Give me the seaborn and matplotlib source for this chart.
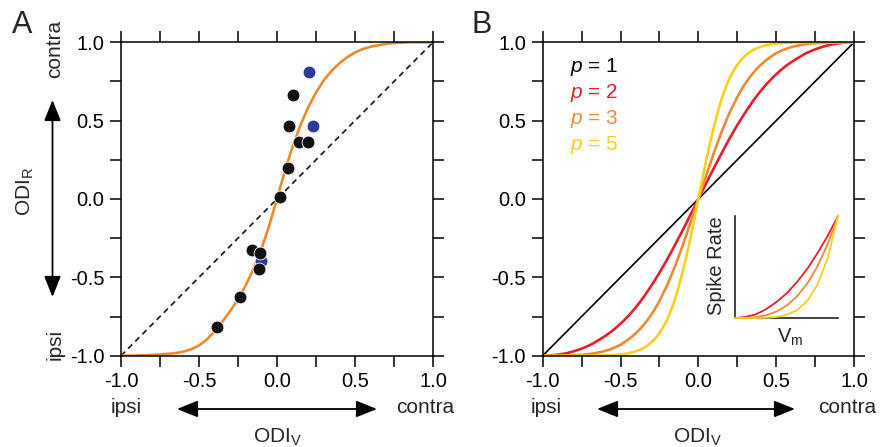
import matplotlib
matplotlib.use("Agg")
import matplotlib.pyplot as plt
import seaborn as sns

# panel A: visual ODI grid and fitted curve
odi_v = [-1.0, -0.95, -0.9, -0.85, -0.8, -0.75, -0.7, -0.65, -0.6, -0.55, -0.5,
         -0.45, -0.4, -0.35, -0.3, -0.25, -0.2, -0.15, -0.1, -0.05, 0.0,
         0.05, 0.1, 0.15, 0.2, 0.25, 0.3, 0.35, 0.4, 0.45, 0.5,
         0.55, 0.6, 0.65, 0.7, 0.75, 0.8, 0.85, 0.9, 0.95, 1.0]
fit_a = [-1.0, -1.0, -0.999, -0.997, -0.995, -0.992, -0.988, -0.983, -0.974, -0.959, -0.935,
         -0.897, -0.845, -0.783, -0.715, -0.64, -0.55, -0.445, -0.32, -0.17, 0.0,
         0.178, 0.333, 0.47, 0.585, 0.68, 0.758, 0.818, 0.866, 0.905, 0.935,
         0.957, 0.972, 0.982, 0.99, 0.995, 0.998, 1.0, 1.0, 1.0, 1.0]

# panel A: cells
black_x = [-0.387, -0.237, -0.162, -0.109, -0.118, 0.019, 0.069, 0.077, 0.100, 0.143, 0.197]
black_y = [-0.815, -0.627, -0.325, -0.347, -0.447, 0.015, 0.196, 0.466, 0.664, 0.366, 0.366]
blue_x = [-0.105, 0.207, 0.233]
blue_y = [-0.394, 0.809, 0.466]

unity = [-1.0, 1.0]

# panel B: model curves (finer grid where they bend)
odi_fine = [-1.0, -0.95, -0.9, -0.85, -0.8, -0.75,
            -0.7, -0.675, -0.65, -0.625, -0.6, -0.575, -0.55, -0.525, -0.5, -0.475,
            -0.45, -0.425, -0.4, -0.375, -0.35, -0.325, -0.3, -0.275, -0.25, -0.225,
            -0.2, -0.175, -0.15, -0.125, -0.1, -0.075, -0.05, -0.025, 0.0,
            0.025, 0.05, 0.075, 0.1, 0.125, 0.15, 0.175, 0.2, 0.225, 0.25,
            0.275, 0.3, 0.325, 0.35, 0.375, 0.4, 0.425, 0.45, 0.475, 0.5,
            0.525, 0.55, 0.575, 0.6, 0.625, 0.65, 0.675, 0.7,
            0.75, 0.8, 0.85, 0.9, 0.95, 1.0]
p2_y = [-1.0, -0.998, -0.993, -0.985, -0.972, -0.955,
        -0.934, -0.921, -0.906, -0.891, -0.875, -0.858, -0.839, -0.818, -0.796, -0.772,
        -0.746, -0.719, -0.689, -0.657, -0.624, -0.587, -0.55, -0.511, -0.471, -0.428,
        -0.385, -0.34, -0.293, -0.245, -0.198, -0.149, -0.1, -0.05, 0.0,
        0.05, 0.1, 0.149, 0.198, 0.245, 0.293, 0.34, 0.385, 0.428, 0.471,
        0.511, 0.55, 0.587, 0.624, 0.657, 0.689, 0.719, 0.746, 0.772, 0.796,
        0.818, 0.839, 0.858, 0.875, 0.891, 0.906, 0.921, 0.934,
        0.955, 0.972, 0.985, 0.993, 0.998, 1.0]
p3_y = [-1.0, -1.0, -1.0, -0.999, -0.997, -0.994,
        -0.989, -0.986, -0.981, -0.976, -0.97, -0.962, -0.953, -0.942, -0.93, -0.914,
        -0.897, -0.877, -0.855, -0.83, -0.802, -0.77, -0.735, -0.695, -0.65, -0.6,
        -0.55, -0.49, -0.43, -0.363, -0.295, -0.222, -0.15, -0.075, 0.0,
        0.075, 0.15, 0.222, 0.295, 0.363, 0.43, 0.49, 0.55, 0.6, 0.65,
        0.695, 0.735, 0.77, 0.802, 0.83, 0.855, 0.877, 0.897, 0.914, 0.93,
        0.942, 0.953, 0.962, 0.97, 0.976, 0.981, 0.986, 0.989,
        0.994, 0.997, 0.999, 1.0, 1.0, 1.0]
p5_y = [-1.0, -1.0, -1.0, -1.0, -1.0, -1.0,
        -1.0, -1.0, -0.999, -0.999, -0.998, -0.997, -0.996, -0.994, -0.992, -0.989,
        -0.984, -0.979, -0.971, -0.962, -0.95, -0.934, -0.913, -0.888, -0.856, -0.816,
        -0.77, -0.709, -0.64, -0.556, -0.46, -0.358, -0.245, -0.124, 0.0,
        0.124, 0.245, 0.358, 0.46, 0.556, 0.64, 0.709, 0.77, 0.816, 0.856,
        0.888, 0.913, 0.934, 0.95, 0.962, 0.971, 0.979, 0.984, 0.989, 0.992,
        0.994, 0.996, 0.997, 0.998, 0.999, 0.999, 1.0, 1.0,
        1.0, 1.0, 1.0, 1.0, 1.0, 1.0]

# inset: spike rate vs Vm
vm = [0.0, 0.1, 0.2, 0.3, 0.4, 0.5, 0.6, 0.7, 0.8, 0.9, 1.0]
rate_p2 = [0.0, 0.01, 0.035, 0.085, 0.155, 0.24, 0.35, 0.48, 0.635, 0.805, 1.0]
rate_p3 = [0.0, 0.001, 0.008, 0.026, 0.062, 0.12, 0.21, 0.335, 0.505, 0.725, 1.0]
rate_p5 = [0.0, 0.0, 0.0, 0.002, 0.01, 0.03, 0.075, 0.165, 0.325, 0.585, 1.0]

tick_major = [-1.0, -0.5, 0.0, 0.5, 1.0]
tick_minor = [-0.75, -0.25, 0.25, 0.75]
tick_labels = ["-1.0", "-0.5", "0.0", "0.5", "1.0"]

legend_labels = [r"$p$ = $\mathit{1}$", "$p$ = 2", "$p$ = 3", "$p$ = 5"]

RED = "#E3202B"
ORANGE = "#EE8A33"
YELLOW = "#F6D01C"
FIT = "#EC8A2A"
BLUE = "#2D3A9C"

sns.set_theme(style="ticks")
plt.rcParams["font.family"] = ["Liberation Sans", "DejaVu Sans"]
plt.rcParams["mathtext.fontset"] = "custom"
plt.rcParams["mathtext.rm"] = "Liberation Sans"
plt.rcParams["mathtext.it"] = "Liberation Sans:italic"

W, H = 889, 447
fig = plt.figure(figsize=(W / 100, H / 100), dpi=100)
fig.patch.set_facecolor("white")


def box(left, top, right, bottom):
    return [left / W, 1 - bottom / H, (right - left) / W, (bottom - top) / H]


def fx(px):
    return px / W


def fy(py):
    return 1 - py / H


def style_axes(ax):
    ax.set_xlim(-1, 1)
    ax.set_ylim(-1, 1)
    ax.set_xticks(tick_major)
    ax.set_yticks(tick_major)
    ax.set_xticks(tick_minor, minor=True)
    ax.set_yticks(tick_minor, minor=True)
    ax.set_xticklabels(tick_labels)
    ax.set_yticklabels(tick_labels)
    ax.set_xlabel("")
    ax.set_ylabel("")
    for s in ax.spines.values():
        s.set_linewidth(1.1)
        s.set_color("black")
    ax.tick_params(which="both", direction="out", length=8, width=1.1,
                   top=True, right=True, colors="black", labelsize=14.5, pad=4)


def arrow(x0, y0, x1, y1):
    fig.add_artist(matplotlib.patches.FancyArrowPatch(
        (fx(x0), fy(y0)), (fx(x1), fy(y1)), transform=fig.transFigure,
        arrowstyle="<|-|>,head_length=0.8,head_width=0.32", mutation_scale=16,
        color="black", lw=1.3, shrinkA=0, shrinkB=0))


# ---- panel A ----
ax_a = fig.add_axes(box(121, 42.3, 433, 355.7))
sns.lineplot(x=unity, y=unity, color="#222222", linewidth=1.3, ax=ax_a)
ax_a.lines[-1].set_dashes([3.2, 2.4])
sns.lineplot(x=odi_v, y=fit_a, color=FIT, linewidth=1.9, ax=ax_a)
sns.scatterplot(x=blue_x, y=blue_y, color=BLUE, s=85, edgecolor="white",
                linewidth=0.6, ax=ax_a, zorder=3)
sns.scatterplot(x=black_x, y=black_y, color="#111111", s=85, edgecolor="white",
                linewidth=0.6, ax=ax_a, zorder=4)
style_axes(ax_a)

# ---- panel B ----
ax_b = fig.add_axes(box(542.7, 42.3, 854, 355.7))
sns.lineplot(x=unity, y=unity, color="black", linewidth=1.2, ax=ax_b)
sns.lineplot(x=odi_fine, y=p2_y, color=RED, linewidth=1.9, ax=ax_b)
sns.lineplot(x=odi_fine, y=p3_y, color=ORANGE, linewidth=1.9, ax=ax_b)
sns.lineplot(x=odi_fine, y=p5_y, color=YELLOW, linewidth=1.9, ax=ax_b)
style_axes(ax_b)

for i, (lab, col) in enumerate(zip(legend_labels, ["black", RED, ORANGE, YELLOW])):
    ax_b.text(-0.825, 0.81 - 0.166 * i, lab, color=col, fontsize=15, va="baseline",
              ha="left")

# inset
ax_in = fig.add_axes(box(735, 216, 838, 318))
ax_in.patch.set_alpha(0)
sns.lineplot(x=vm, y=rate_p2, color=RED, linewidth=1.3, ax=ax_in, clip_on=False)
sns.lineplot(x=vm, y=rate_p3, color=ORANGE, linewidth=1.3, ax=ax_in, clip_on=False)
sns.lineplot(x=vm, y=rate_p5, color=YELLOW, linewidth=1.3, ax=ax_in, clip_on=False)
ax_in.set_xlim(0, 1)
ax_in.set_ylim(0, 1)
ax_in.set_xticks([])
ax_in.set_yticks([])
ax_in.set_xlabel("")
ax_in.set_ylabel("")
for side in ["top", "right"]:
    ax_in.spines[side].set_visible(False)
for side in ["left", "bottom"]:
    ax_in.spines[side].set_linewidth(1.2)
    ax_in.spines[side].set_color("#222222")
    ax_in.spines[side].set_zorder(1)
for ln in ax_in.lines:
    ln.set_zorder(3)

fig.text(fx(716), fy(266), "Spike Rate", rotation=90, ha="center", va="center",
         fontsize=14.5)
fig.text(fx(777), fy(343), r"V$_\mathregular{m}$", ha="left", va="baseline", fontsize=14.5)

# panel letters
fig.text(fx(12), fy(33), "A", fontsize=22, ha="left", va="baseline")
fig.text(fx(471), fy(33), "B", fontsize=22, ha="left", va="baseline")

# panel A side labels
fig.text(fx(55), fy(49), "contra", rotation=90, ha="center", va="center", fontsize=15)
fig.text(fx(55), fy(344), "ipsi", rotation=90, ha="center", va="center", fontsize=15)
fig.text(fx(25), fy(191), r"ODI$_\mathregular{R}$", rotation=90, ha="center",
         va="center", fontsize=15)
arrow(52.5, 297, 52.5, 100)

# bottom labels for both panels
for ipsi_x, contra_x, a0, a1, mid in [(126, 425, 177, 377, 277),
                                      (546, 847, 597, 795, 697)]:
    fig.text(fx(ipsi_x), fy(413), "ipsi", ha="center", va="baseline", fontsize=15)
    fig.text(fx(contra_x), fy(413), "contra", ha="center", va="baseline", fontsize=15)
    arrow(a0, 409, a1, 409)
    fig.text(fx(mid), fy(443), r"ODI$_\mathregular{V}$", ha="center", va="baseline",
             fontsize=15)

fig.savefig("out.png", dpi=100, facecolor="white")
